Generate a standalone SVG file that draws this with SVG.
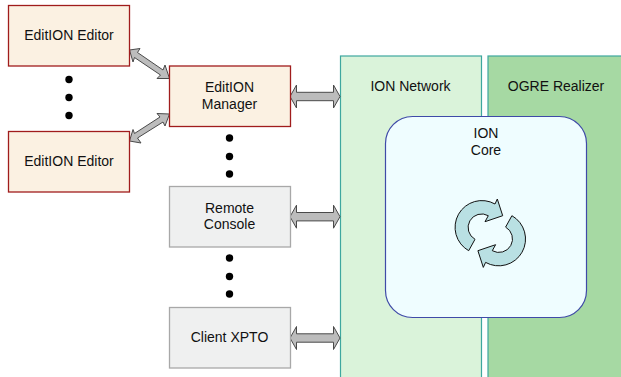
<svg xmlns="http://www.w3.org/2000/svg" width="621" height="377" viewBox="0 0 621 377">
<style>
text{font-family:"Liberation Sans",Arial,sans-serif;font-size:14px;fill:#111;text-anchor:middle}
.red{fill:#fbf1e2;stroke:#a01c1c;stroke-width:1.3}
.gray{fill:#eff0f0;stroke:#a8a8a8;stroke-width:1.3}
.arrow{fill:#bcbcbc;stroke:#4a4a4a;stroke-width:1}
.dot{fill:#000}
.cyc{fill:#b9e0e3;stroke:#111;stroke-width:1}
</style>
<defs>
<polygon id="ha" points="0,11.500 6.500,0 6.500,7.300 43.500,7.300 43.500,0 50,11.500 43.500,23 43.500,15.700 6.500,15.700 6.500,23"/>
</defs>
<g id="ion-network"><rect x="340.500" y="56" width="141" height="330" fill="#daf3da" stroke="#3ea79f" stroke-width="1.200"/><text x="410.500" y="91">ION Network</text></g>
<g id="ogre-realizer"><rect x="488" y="56" width="140" height="330" fill="#a6d9a3" stroke="#3ea79f" stroke-width="1.200"/><text x="556" y="91">OGRE Realizer</text></g>
<g id="ion-core"><rect x="385.500" y="116.500" width="201" height="201" rx="27" fill="#effdff" stroke="#3f4aa8" stroke-width="1.200"/><text x="486" y="138.300">ION</text><text x="486" y="155">Core</text>
<path class="cyc" d="M468.700 250.700A26.700 26.700 0 0 1 495 204L497.300 199L502.700 215.700L485 221.700L488.300 215.700A13.500 13.500 0 0 0 475 239.300Z"/>
<path class="cyc" transform="rotate(180 490.300 233.200)" d="M468.700 250.700A26.700 26.700 0 0 1 495 204L497.300 199L502.700 215.700L485 221.700L488.300 215.700A13.500 13.500 0 0 0 475 239.300Z"/>
</g>
<g id="connectors">
<polygon class="arrow" points="129.500,50 140,48.500 137.500,52.500 163,70 165,65 169.500,78.500 157,78.500 160.500,75 134.500,57.500 133,62"/>
<polygon class="arrow" points="129.500,141 141,143 137.500,138 163,122 165,126 169.500,114 157,113.500 160,117 134.500,133.500 133,129.500"/>
<use href="#ha" class="arrow" x="290" y="85"/>
<use href="#ha" class="arrow" x="290" y="205.200"/>
<use href="#ha" class="arrow" x="290" y="326.500"/>
<g class="dot">
<circle cx="69" cy="79.500" r="3.700"/><circle cx="69" cy="97.500" r="3.700"/><circle cx="69" cy="115.500" r="3.700"/>
<circle cx="229.500" cy="138" r="3.700"/><circle cx="229.500" cy="156.500" r="3.700"/><circle cx="229.500" cy="174" r="3.700"/>
<circle cx="229.500" cy="258" r="3.700"/><circle cx="229.500" cy="276.500" r="3.700"/><circle cx="229.500" cy="294" r="3.700"/>
</g>
</g>
<g id="editor-1"><rect class="red" x="8.500" y="5.500" width="121" height="60.500"/><text x="69" y="39.700">EditION Editor</text></g>
<g id="editor-2"><rect class="red" x="8.500" y="131.500" width="121" height="60.500"/><text x="69" y="165.700">EditION Editor</text></g>
<g id="manager"><rect class="red" x="169.500" y="66" width="121" height="60.500"/><text x="229.500" y="92.300">EditION</text><text x="229.500" y="109">Manager</text></g>
<g id="remote-console"><rect class="gray" x="169.500" y="186.500" width="121" height="60.500"/><text x="229.500" y="212.700">Remote</text><text x="229.500" y="229.300">Console</text></g>
<g id="client-xpto"><rect class="gray" x="169.500" y="307.500" width="121" height="60.500"/><text x="229.500" y="341.700">Client XPTO</text></g>
</svg>
